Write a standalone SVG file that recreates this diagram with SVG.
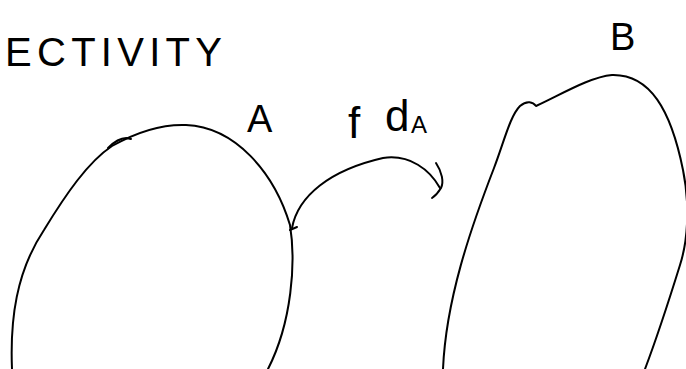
<svg xmlns="http://www.w3.org/2000/svg" width="686" height="369" viewBox="0 0 686 369">
<style>
.ln{fill:none;stroke:#000;stroke-width:2;stroke-linecap:round;stroke-linejoin:round}
.tx{font-family:"Liberation Sans","DejaVu Sans",sans-serif;fill:#000}
</style>
<rect width="686" height="369" fill="#fff"/>
<text class="tx" x="5" y="66" font-size="40" textLength="217" lengthAdjust="spacing">ECTIVITY</text>
<g id="nodeA">
<path class="ln" d="M12,369 C10,320 16,272 44,230 C66,194 88,162 112,146 C135,133 160,124 186,125 C235,127 274,172 290,225 C296,262 292,322 268,369"/>
<path class="ln" d="M108,148 C114,142 123,136 131,139"/>
<text class="tx" x="247" y="132" font-size="38">A</text>
</g>
<g id="nodeB">
<path class="ln" d="M443,369 C446,300 470,230 494,168 C504,142 510,116 520,106 C527,100 533,102 536,106 C562,94 590,77 612,75 C650,74 671,110 683,170 C690,205 688,240 680,265 C666,310 656,340 645,369"/>
<text class="tx" x="610" y="50" font-size="38">B</text>
</g>
<g id="connectors">
<path class="ln" d="M292,228 C298,196 330,170 383,158 C410,154 430,170 440,188"/>
<path class="ln" d="M290,230 L297,227"/>
<path class="ln" d="M436,163 C442,172 444,182 441,188 C438,193 435,196 432,198"/>
<text class="tx" font-size="44"><tspan x="348" y="138">f</tspan><tspan x="385" y="131">d</tspan><tspan x="411" y="133" font-size="24">A</tspan></text>
</g>
</svg>
